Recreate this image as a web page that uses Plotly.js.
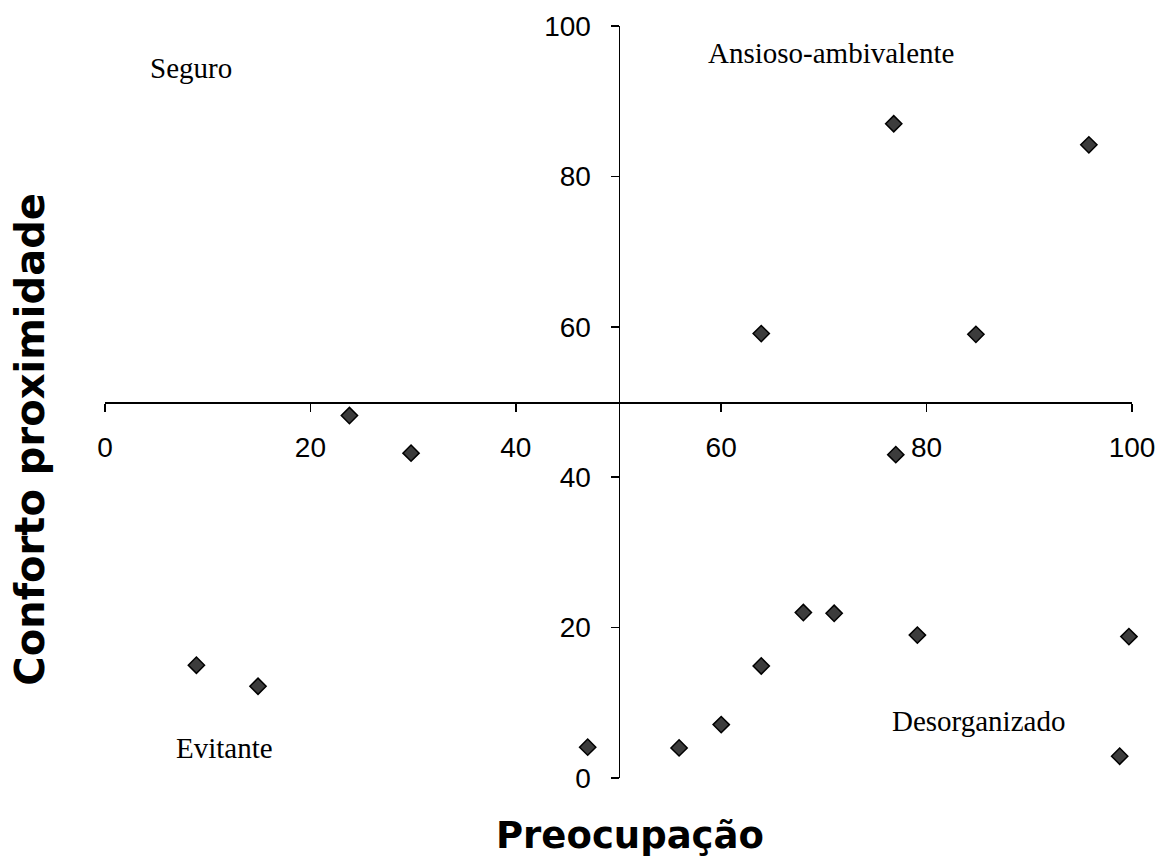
<!DOCTYPE html>
<html>
<head>
<meta charset="utf-8">
<script src="https://cdn.plot.ly/plotly-3.0.1.min.js"></script>
<style>html,body{margin:0;padding:0;background:#fff;}#chart{width:1165px;height:868px;}</style>
</head>
<body>
<div id="chart"></div>
<script>
// Data
const preocupacao = [23.8, 29.8, 8.9, 14.9, 47.0, 55.9, 60.0, 63.9, 68.0, 71.0, 63.9, 76.8, 77.0, 79.1, 84.8, 95.8, 99.7, 98.8];
const confortoProximidade = [48.2, 43.2, 15.0, 12.2, 4.1, 4.0, 7.1, 14.9, 22.0, 21.9, 59.1, 87.0, 43.0, 19.0, 59.0, 84.2, 18.8, 2.9];
const tickValues = [0, 20, 40, 60, 80, 100];
const tickLabels = ["0", "20", "40", "60", "80", "100"];
const quadrantLabels = ["Seguro", "Ansioso-ambivalente", "Evitante", "Desorganizado"];
const quadrantX = [8.4, 70.7, 11.6, 85.1];
const quadrantY = [94.4, 96.4, 4.0, 7.6];
const xTitle = "Preocupação";
const yTitle = "Conforto proximidade";

const trace = {
  type: 'scatter', mode: 'markers',
  x: preocupacao, y: confortoProximidade,
  cliponaxis: false,
  marker: {symbol: 'diamond', size: 12.5, color: '#3c3c3c', line: {color: '#000', width: 1.5}},
  hoverinfo: 'x+y'
};

const tickFont = {family: 'Liberation Sans, Arial, sans-serif', size: 28, color: '#000'};
const annFont = {family: 'Liberation Serif, Times New Roman, serif', size: 29, color: '#000'};
const titleFont = {family: 'DejaVu Sans, sans-serif', size: 38, color: '#000', weight: 'bold'};

const annotations = quadrantLabels.map((t, i) => ({
  text: t, x: quadrantX[i], y: quadrantY[i], xref: 'x', yref: 'y',
  showarrow: false, xanchor: 'center', yanchor: 'middle', font: annFont
}));
annotations.push({text: '<b>' + xTitle + '</b>', xref: 'paper', yref: 'paper', x: 0.511, y: -0.077,
  showarrow: false, xanchor: 'center', yanchor: 'middle', font: Object.assign({}, titleFont, {size: 37})});
annotations.push({text: '<b>' + yTitle + '</b>', xref: 'paper', yref: 'paper', x: -0.073, y: 0.45,
  showarrow: false, xanchor: 'center', yanchor: 'middle', textangle: -90, font: Object.assign({}, titleFont, {size: 40})});

const layout = {
  width: 1165, height: 868,
  margin: {l: 105, r: 33, t: 26, b: 90},
  paper_bgcolor: '#fff', plot_bgcolor: '#fff',
  showlegend: false,
  xaxis: {
    range: [0, 100], anchor: 'free', position: 0.5,
    showline: true, linecolor: '#000', linewidth: 1.5,
    ticks: 'outside', ticklen: 8, tickwidth: 1.5, tickcolor: '#000',
    tickvals: tickValues, ticktext: tickLabels, tickfont: tickFont,
    ticklabelstandoff: 12,
    showgrid: false, zeroline: false, fixedrange: true
  },
  yaxis: {
    range: [0, 100], anchor: 'free', position: 0.5,
    showline: true, linecolor: '#000', linewidth: 1.5,
    ticks: 'outside', ticklen: 8, tickwidth: 1.5, tickcolor: '#000',
    tickvals: tickValues, ticktext: tickLabels, tickfont: tickFont,
    ticklabelstandoff: 14,
    showgrid: false, zeroline: false, fixedrange: true
  },
  annotations: annotations
};

Plotly.newPlot('chart', [trace], layout, {displayModeBar: false, staticPlot: true});
</script>
</body>
</html>
